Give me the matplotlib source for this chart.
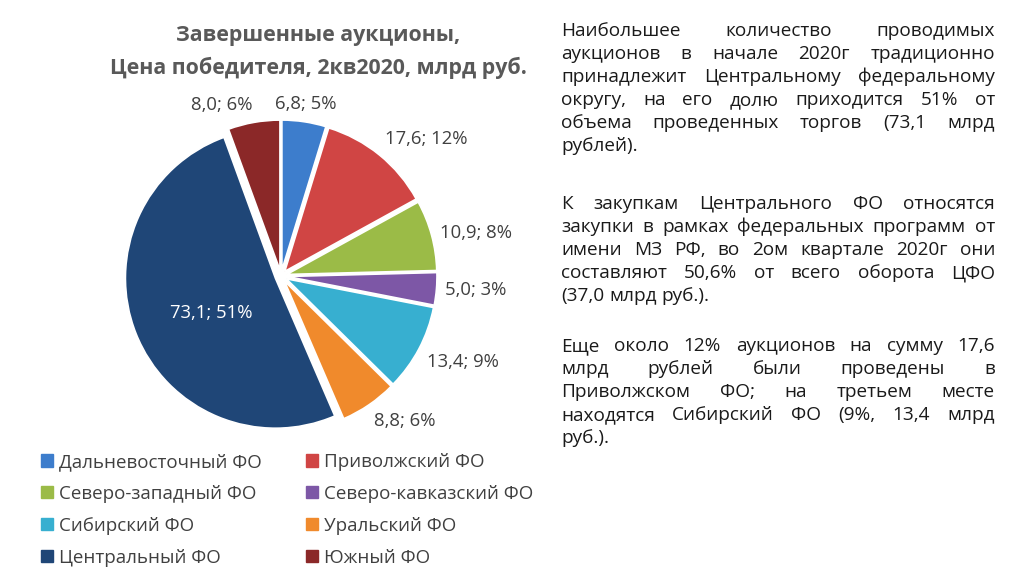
import matplotlib.pyplot as plt
from matplotlib.patches import Patch
import numpy as np

regions = ['Дальневосточный ФО', 'Приволжский ФО', 'Северо-западный ФО',
           'Северо-кавказский ФО', 'Сибирский ФО', 'Уральский ФО',
           'Центральный ФО', 'Южный ФО']
values = [6.8, 17.6, 10.9, 5.0, 13.4, 8.8, 73.1, 8.0]
shares = [5, 12, 8, 3, 9, 6, 51, 6]
colors = ['#3d7dcc', '#d04544', '#9bbb47', '#7d57a6',
          '#37afd0', '#f08a2c', '#1f4677', '#8b2828']

title = 'Завершенные аукционы,\nЦена победителя, 2кв2020, млрд руб.'

para1 = ['Наибольшее количество проводимых',
         'аукционов в начале 2020г традиционно',
         'принадлежит Центральному федеральному',
         'округу, на его долю приходится 51% от',
         'объема проведенных торгов (73,1 млрд',
         'рублей).']
para2 = ['К закупкам Центрального ФО относятся',
         'закупки в рамках федеральных программ от',
         'имени МЗ РФ, во 2ом квартале 2020г они',
         'составляют 50,6% от всего оборота ЦФО',
         '(37,0 млрд руб.).']
para3 = ['Еще около 12% аукционов на сумму 17,6',
         'млрд рублей были проведены в',
         'Приволжском ФО; на третьем месте',
         'находятся Сибирский ФО (9%, 13,4 млрд',
         'руб.).']

plt.rcParams['font.family'] = ['Open Sans', 'DejaVu Sans']

W, H = 1012, 587
fig = plt.figure(figsize=(W / 100, H / 100), dpi=100)
ax = fig.add_axes([0, 0, 1, 1])

# pie geometry in pixels (y measured from the top)
cx, cy, rad = 281, 276, 150
Y = lambda y: H - y

# explode in pie() is an absolute offset, here in pixels
wedges, _ = ax.pie(values, colors=colors, startangle=90, counterclock=False,
                   radius=rad, center=(cx, Y(cy)), explode=[6] * len(values),
                   wedgeprops=dict(edgecolor='white', linewidth=1.2))

ax.set_xlim(0, W)
ax.set_ylim(0, H)
ax.set_aspect('equal')
ax.axis('off')

# data labels
lab_color = '#404040'
for w, v, s in zip(wedges, values, shares):
    mid = np.deg2rad((w.theta1 + w.theta2) / 2)
    dx, dy = np.cos(mid), np.sin(mid)
    txt = f'{v:.1f}'.replace('.', ',') + f'; {s}%'
    if s > 40:
        ax.text(cx + 0.5 * rad * dx, Y(cy) + 0.5 * rad * dy, txt,
                ha='center', va='top', fontsize=13.3, color='white')
        continue
    d = 1.1 * rad
    ha = 'left' if dx > 0.16 else ('right' if dx < -0.16 else 'center')
    va = 'bottom' if dy > 0.3 else ('top' if dy < -0.3 else 'center')
    ax.text(cx + d * dx, Y(cy) + d * dy, txt, ha=ha, va=va,
            fontsize=13.3, color=lab_color)

ax.text(318, Y(52), title, ha='center', va='center', fontsize=15.4,
        fontweight='bold', color='#595959', linespacing=1.62)

# legend, filled row by row
order = [0, 2, 4, 6, 1, 3, 5, 7]
handles = [Patch(facecolor=colors[i], edgecolor=colors[i]) for i in order]
fig.legend(handles, [regions[i] for i in order], ncol=2, frameon=False,
           loc='upper left', bbox_to_anchor=(28 / W, 1 - 440 / H),
           fontsize=13.5, labelcolor=lab_color, handlelength=0.62,
           handleheight=0.62, handletextpad=0.35, columnspacing=2.35,
           labelspacing=0.74, borderpad=0.2)

# justified text block on the right
renderer = fig.canvas.get_renderer()
tx0, tx1, step = 561, 995, 23
fs = 13.7


def measure(s):
    t = ax.text(0, 0, s, fontsize=fs)
    wd = t.get_window_extent(renderer).width
    t.remove()
    return wd


space = measure('н н') - measure('нн')


def justify(lines, base):
    for i, line in enumerate(lines):
        words = line.split()
        y = Y(base + i * step)
        texts = [ax.text(0, y, wd, fontsize=fs, color='#1a1a1a',
                         va='baseline', ha='left') for wd in words]
        widths = [t.get_window_extent(renderer).width for t in texts]
        if i == len(lines) - 1 or len(words) == 1:
            gap = space
        else:
            gap = (tx1 - tx0 - sum(widths)) / (len(words) - 1)
        x = tx0
        for t, wd in zip(texts, widths):
            t.set_x(x)
            x += wd + gap


justify(para1, 36)
justify(para2, 209)
justify(para3, 351)

fig.savefig('out.png', dpi=100)
